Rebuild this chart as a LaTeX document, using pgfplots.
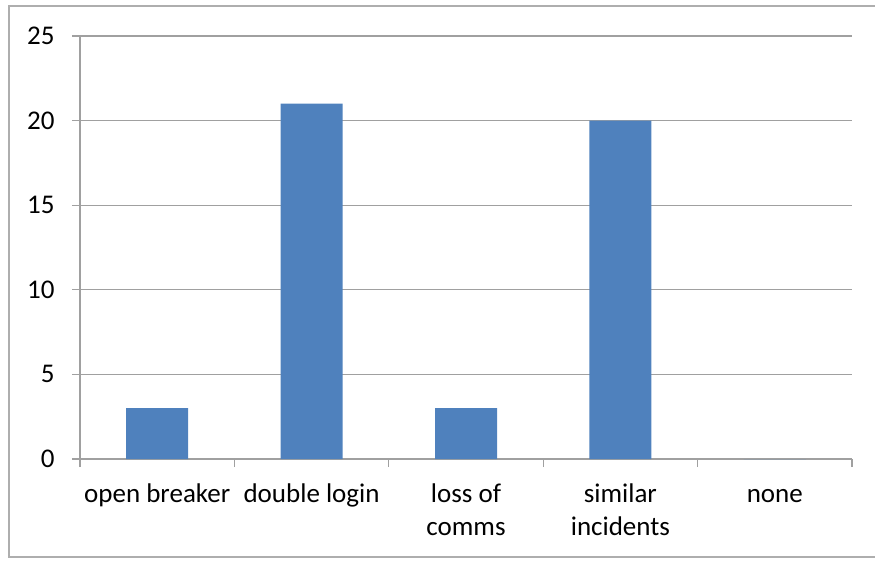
\documentclass[border=0pt]{standalone}
\usepackage{pgfplots}
\pgfplotsset{compat=1.18}
\usepackage{fontspec}
\setmainfont{Carlito}
\definecolor{barblue}{HTML}{4F81BD}
\definecolor{gridgray}{HTML}{A0A0A0}
\begin{document}
\begin{tikzpicture}[x=1pt,y=1pt]
\useasboundingbox (0,0) rectangle (875,560);
\draw[gridgray!85, line width=1.5pt] (9,3) rectangle (910,554);
\begin{axis}[
 at={(80pt,101pt)}, anchor=south west,
 scale only axis, width=772pt, height=423pt,
 xmin=0, xmax=5, ymin=0, ymax=25,
 axis lines=left, axis line style={-, gridgray, line width=1.3pt},
 ymajorgrids, grid style={gridgray, line width=1.3pt},
 xtick={0,...,5}, x tick label as interval,
 xticklabels={\strut open breaker, \strut double login, {\strut loss of\\comms}, {\strut similar\\incidents}, \strut none},
 ytick={0,5,...,25},
 tick align=outside, major tick length=8pt,
 tick style={gridgray, line width=1.3pt},
 ticklabel style={font=\fontsize{27}{33}\selectfont, text=black},
 xticklabel style={align=center, anchor=north, yshift=-9pt},
 yticklabel style={xshift=-14pt},
 /pgf/number format/assume math mode=true,
 clip=false,
]
\addplot[ybar, bar width=62pt, fill=barblue, draw=none] coordinates {(0.5,3) (1.5,21) (2.5,3) (3.5,20) (4.5,0)};
\end{axis}
\end{tikzpicture}
\end{document}
